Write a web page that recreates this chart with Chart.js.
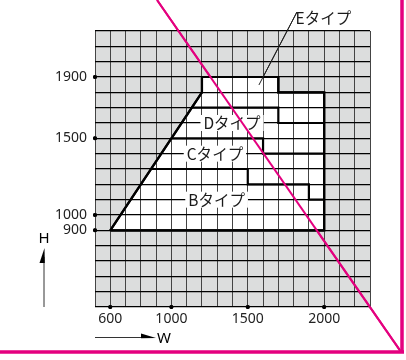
<!DOCTYPE html>
<html>
<head>
<meta charset="utf-8">
<script src="https://cdn.jsdelivr.net/npm/chart.js@4.4.1/dist/chart.umd.min.js"></script>
<style>
  html, body { margin: 0; padding: 0; background: #fff; }
  canvas { display: block; }
</style>
</head>
<body>
<canvas id="myChart" width="406" height="360"></canvas>
<script>
// W across, H up
const wRange = [500, 2300];
const hRange = [400, 2200];
const wLabels = [600, 1000, 1500, 2000];
const hLabels = [900, 1000, 1500, 1900];

// usable size area
const areaW = [600, 1200, 1200, 1700, 1700, 2000, 2000, 600];
const areaH = [900, 1800, 1900, 1900, 1800, 1800, 900, 900];

// borders between types
const edW = [1133, 1700, 1700, 2000];
const edH = [1700, 1700, 1600, 1600];
const dcW = [1000, 1600, 1600, 2000];
const dcH = [1500, 1500, 1400, 1400];
const cbW = [867, 1500, 1500, 1900, 1900, 2000];
const cbH = [1300, 1300, 1200, 1200, 1100, 1100];

// type names
const typeNames = ["Eタイプ", "Dタイプ", "Cタイプ", "Bタイプ"];
const typeW = [1995, 1397, 1285, 1296];
const typeH = [2281, 1600, 1400, 1100];
const leaderW = [1822, 1573];
const leaderH = [2324, 1848];

// pink slash
const pinkW = [906, 2503];
const pinkH = [2402, 107];

var ctx = document.getElementById("myChart");
var myChart;

function pts(ws, hs) {
  return ws.map((w, i) => ({ x: w, y: hs[i] }));
}

function border(ws, hs) {
  return {
    data: pts(ws, hs),
    borderColor: "#000",
    borderWidth: 2.2,
    borderJoinStyle: "miter",
    fill: false,
    onTop: 1,
  };
}

var tickDots = hLabels
  .map((v) => ({ x: wRange[0], y: v }))
  .concat(wLabels.map((v) => ({ x: v, y: hRange[0] })));

const sheet = {
  id: "sheet",
  beforeDraw(chart) {
    const a = chart.chartArea;
    const c = chart.ctx;
    c.save();
    c.fillStyle = "#dcdddd";
    c.fillRect(a.left, a.top, a.right - a.left, a.bottom - a.top);
    c.restore();
  },
  afterDraw(chart) {
    const c = chart.ctx;
    const a = chart.chartArea;
    const x = chart.scales.x;
    const y = chart.scales.y;

    // lines back over the grid
    chart.data.datasets.forEach((ds, i) => {
      if (ds.onTop === 1) chart.getDatasetMeta(i).controller.draw();
    });

    c.save();
    c.font = '15.5px "Noto Sans CJK JP"';
    c.textAlign = "center";
    c.textBaseline = "middle";
    typeNames.forEach((t, i) => {
      const px = x.getPixelForValue(typeW[i]);
      const py = y.getPixelForValue(typeH[i]);
      if (i > 0) {
        const w = c.measureText(t).width + 6;
        c.fillStyle = "#fff";
        c.fillRect(px - w / 2, py - 8, w, 16);
      }
      c.fillStyle = "#1a1a1a";
      c.fillText(t, px, py);
    });

    // H arrow
    const hx = a.left - 51;
    c.strokeStyle = "#333";
    c.lineWidth = 1;
    c.beginPath();
    c.moveTo(hx, a.bottom);
    c.lineTo(hx, a.bottom - 50);
    c.stroke();
    c.fillStyle = "#000";
    c.beginPath();
    c.moveTo(hx + 0.5, a.bottom - 59);
    c.lineTo(hx + 0.8, a.bottom - 44);
    c.lineTo(hx - 4.5, a.bottom - 44);
    c.closePath();
    c.fill();
    c.font = '15px "Noto Sans"';
    c.fillText("H", hx, a.bottom - 68);

    // W arrow
    const wy = a.bottom + 30.5;
    c.beginPath();
    c.moveTo(a.left, wy);
    c.lineTo(a.left + 48, wy);
    c.stroke();
    c.beginPath();
    c.moveTo(a.left + 61, wy + 0.5);
    c.lineTo(a.left + 46, wy + 0.8);
    c.lineTo(a.left + 46, wy - 4);
    c.closePath();
    c.fill();
    c.fillText("W", a.left + 69, wy + 1);

    // pink frame
    c.strokeStyle = "#e4007f";
    c.lineWidth = 3.5;
    c.beginPath();
    c.moveTo(402, 0);
    c.lineTo(402, 352);
    c.moveTo(0, 352);
    c.lineTo(404, 352);
    c.stroke();
    c.restore();

    chart.data.datasets.forEach((ds, i) => {
      if (ds.onTop === 2) chart.getDatasetMeta(i).controller.draw();
    });
  },
};

Chart.defaults.font.family = '"Noto Sans", "Noto Sans CJK JP", sans-serif';

myChart = new Chart(ctx, {
  type: "line",
  data: {
    datasets: [
      {
        data: pts(areaW, areaH),
        fill: "shape",
        backgroundColor: "#ffffff",
        borderColor: "#000",
        borderWidth: 2.2,
        borderJoinStyle: "miter",
        onTop: 1,
      },
      border(edW, edH),
      border(dcW, dcH),
      border(cbW, cbH),
      {
        data: pts(leaderW, leaderH),
        borderColor: "#222",
        borderWidth: 1,
        fill: false,
        clip: false,
        onTop: 1,
      },
      {
        data: tickDots,
        showLine: false,
        pointRadius: 2,
        pointBackgroundColor: "#000",
        pointBorderWidth: 0,
        clip: false,
        onTop: 1,
      },
      {
        data: pts(pinkW, pinkH),
        borderColor: "#e4007f",
        borderWidth: 2,
        fill: false,
        clip: false,
        onTop: 2,
      },
    ],
  },
  options: {
    responsive: false,
    animation: false,
    events: [],
    elements: { point: { radius: 0 }, line: { tension: 0 } },
    layout: { padding: { top: 31, right: 36, left: 0, bottom: 0 } },
    plugins: {
      legend: { display: false },
      tooltip: { enabled: false },
    },
    scales: {
      x: {
        type: "linear",
        min: wRange[0],
        max: wRange[1],
        afterFit: (s) => {
          s.height = 53;
        },
        border: { display: false },
        grid: { color: "#444", lineWidth: 1, drawTicks: false, z: 1 },
        ticks: {
          stepSize: 100,
          autoSkip: false,
          maxRotation: 0,
          padding: 4,
          color: "#222",
          font: { size: 14 },
          callback: (v) => (wLabels.includes(v) ? String(v) : ""),
        },
      },
      y: {
        type: "linear",
        min: hRange[0],
        max: hRange[1],
        afterFit: (s) => {
          s.width = 95;
        },
        border: { display: false },
        grid: { color: "#000", lineWidth: 1.2, drawTicks: false, z: 1 },
        ticks: {
          stepSize: 100,
          autoSkip: false,
          padding: 8,
          color: "#222",
          font: { size: 14 },
          callback: (v) => (hLabels.includes(v) ? String(v) : ""),
        },
      },
    },
  },
  plugins: [sheet],
});
</script>
</body>
</html>
